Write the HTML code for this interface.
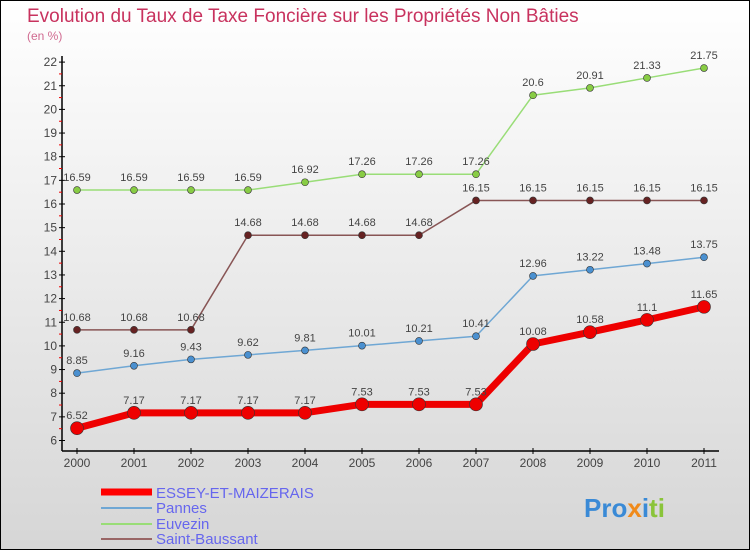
<!DOCTYPE html>
<html><head><meta charset="utf-8"><style>
body{margin:0}
#c{position:relative;width:748px;height:548px;border:1px solid #000;background:linear-gradient(#ffffff,#d6d6d6);font-family:"Liberation Sans",sans-serif;overflow:hidden}
</style></head><body>
<div id="c">
<svg id="s" width="748" height="548" xmlns="http://www.w3.org/2000/svg">
<text x="26" y="21" font-size="19" fill="#c8325e">Evolution du Taux de Taxe Foncière sur les Propriétés Non Bâties</text>
<text x="26" y="39" font-size="12" fill="#d06a90">(en %)</text>
<g id="axes"></g><g id="series"></g>
<g>
<line x1="100" y1="491" x2="151" y2="491" stroke="#f00" stroke-width="7"/>
<text x="155" y="497" font-size="15" fill="#6666ee">ESSEY-ET-MAIZERAIS</text>
<line x1="100" y1="507" x2="151" y2="507" stroke="#6fa7d4" stroke-width="2"/>
<text x="155" y="512" font-size="15" fill="#6666ee">Pannes</text>
<line x1="100" y1="523" x2="151" y2="523" stroke="#99dd77" stroke-width="2"/>
<text x="155" y="528" font-size="15" fill="#6666ee">Euvezin</text>
<line x1="100" y1="538" x2="151" y2="538" stroke="#996666" stroke-width="2"/>
<text x="155" y="543" font-size="15" fill="#6666ee">Saint-Baussant</text>
</g>
<text x="583" y="516" font-size="26" font-weight="bold"><tspan fill="#3a8ad6">Pro</tspan><tspan fill="#f08a1a">x</tspan><tspan fill="#3a8ad6">i</tspan><tspan fill="#8ac43a">ti</tspan></text>
</svg>
</div>
<script>
const years=["2000","2001","2002","2003","2004","2005","2006","2007","2008","2009","2010","2011"];
const yTicks=[6,7,8,9,10,11,12,13,14,15,16,17,18,19,20,21,22];
const essey=[6.52,7.17,7.17,7.17,7.17,7.53,7.53,7.53,10.08,10.58,11.1,11.65];
const pannes=[8.85,9.16,9.43,9.62,9.81,10.01,10.21,10.41,12.96,13.22,13.48,13.75];
const euvezin=[16.59,16.59,16.59,16.59,16.92,17.26,17.26,17.26,20.6,20.91,21.33,21.75];
const saint=[10.68,10.68,10.68,14.68,14.68,14.68,14.68,16.15,16.15,16.15,16.15,16.15];
const NS="http://www.w3.org/2000/svg";
const xs=i=>76+i*57;
const ys=v=>439.5-(v-6)*23.65;
function mk(tag,a,p){const e=document.createElementNS(NS,tag);for(const k in a)e.setAttribute(k,a[k]);p.appendChild(e);return e;}
const ax=document.getElementById('axes');
let l=mk('line',{x1:61,y1:55,x2:61,y2:450,stroke:'#000','stroke-width':1.5},ax);


l=mk('line',{x1:61,y1:450,x2:718,y2:450,stroke:'#000','stroke-width':1.5},ax);


yTicks.forEach(v=>{
 mk('line',{x1:58,y1:ys(v),x2:64,y2:ys(v),stroke:'#000'},ax);
 if(v<22)mk('line',{x1:58,y1:ys(v+0.5),x2:61,y2:ys(v+0.5),stroke:'#e00'},ax);
 const t=mk('text',{x:56,y:ys(v)+4,'font-size':12,'text-anchor':'end',fill:'#444'},ax);t.textContent=v;
 
 
});
years.forEach((y,i)=>{
 mk('line',{x1:xs(i),y1:447,x2:xs(i),y2:453,stroke:'#000'},ax);
 const t=mk('text',{x:xs(i),y:466,'font-size':12,'text-anchor':'middle',fill:'#444'},ax);t.textContent=y;
 
 
});
const sg=document.getElementById('series');
function draw(data,color,w,r,name,dotFill){
 const g=mk('g',{},sg);
 
 
 const p=mk('polyline',{points:data.map((v,i)=>xs(i)+','+ys(v)).join(' '),fill:'none',stroke:color,'stroke-width':w,'stroke-linejoin':'round'},g);
 
 
 data.forEach((v,i)=>{
  const c=mk('circle',{cx:xs(i),cy:ys(v),r:r,fill:dotFill,stroke:'#333','stroke-width':0.6},g);
  
  
  const t=mk('text',{x:xs(i),y:ys(v)-9,'font-size':11,'text-anchor':'middle',fill:'#444'},g);t.textContent=v;
  
  
 });
}
draw(euvezin,'#99dd77',1.5,3.5,'euvezin','#88cc44');
draw(saint,'#885555',1.5,3.5,'saint-baussant','#662222');
draw(pannes,'#6fa7d4',1.5,3.5,'pannes','#4a90d0');
draw(essey,'#ee0000',7,6.5,'essey','#ee0000');
</script>
</body></html>
